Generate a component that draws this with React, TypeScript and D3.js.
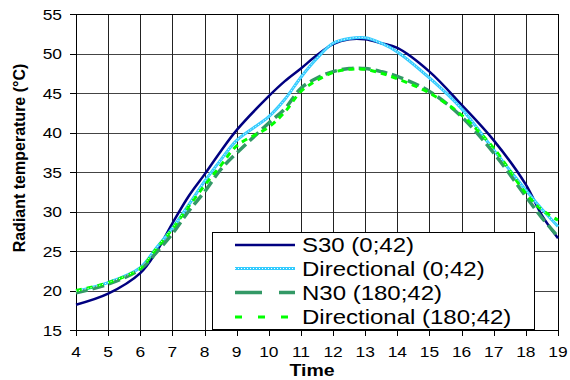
import React from "react";
import * as d3 from "d3";

const times = [4, 5, 6, 6.5, 7, 7.5, 8, 8.5, 9, 10, 10.5, 11, 11.5, 12, 12.5, 13, 13.5, 14, 15, 16, 17, 18, 18.5, 19];
const s30 = [18.2, 19.6, 22.2, 24.9, 28.5, 31.9, 34.7, 37.6, 40.3, 44.6, 46.5, 48.1, 49.8, 51.2, 51.8, 51.8, 51.3, 50.7, 47.7, 43.5, 39.0, 33.4, 29.5, 26.6];
const dir0 = [19.9, 21.0, 22.9, 25.4, 27.9, 30.8, 33.8, 36.5, 39.0, 42.0, 44.2, 47.0, 49.4, 51.3, 51.9, 52.0, 51.3, 50.2, 46.9, 43.0, 37.8, 32.7, 30.3, 28.1];
const n30 = [19.7, 20.8, 22.7, 24.8, 27.2, 30.0, 32.5, 35.3, 37.4, 41.2, 43.0, 45.6, 46.9, 47.7, 48.1, 48.1, 47.7, 47.1, 45.2, 42.0, 37.4, 31.9, 29.2, 26.8];
const dir180 = [20.0, 21.0, 22.8, 25.3, 27.8, 30.6, 33.3, 35.8, 38.3, 40.7, 42.6, 45.2, 46.6, 47.6, 48.0, 48.0, 47.5, 46.8, 45.0, 42.2, 38.0, 32.3, 30.2, 28.9];

const seriesNames = ["S30 (0;42)", "Directional (0;42)", "N30 (180;42)", "Directional (180;42)"];
const xTicks = d3.range(4, 20, 1);
const yTicks = d3.range(15, 56, 5);

const FONT = "'Liberation Sans', Arial, sans-serif";

const L = 76, R = 558, TOP = 14, B = 330;

function Txt(props: { x: number; y: number; anchor?: string; size: number; bold?: boolean; sx?: number; rot?: number; children: any }) {
  const { x, y, anchor = "start", size, bold, sx = 1.16, rot = 0, children } = props;
  return (
    <text
      transform={`translate(${x},${y}) rotate(${rot}) scale(${sx},1)`}
      textAnchor={anchor}
      fontFamily={FONT}
      fontSize={size}
      fontWeight={bold ? "bold" : "normal"}
      fill="#000"
    >
      {children}
    </text>
  );
}

export default function App() {
  const x = d3.scaleLinear().domain([4, 19]).range([L, R]);
  const y = d3.scaleLinear().domain([15, 55]).range([B, TOP]);
  const mk = (vals: number[]) =>
    d3
      .line<number>()
      .x((_, i) => x(times[i]))
      .y((v) => y(v))
      .curve(d3.curveCatmullRom.alpha(0.5))(vals) as string;

  const styles = [
    { data: s30, stroke: "#000080", width: 2.5, dash: undefined as string | undefined },
    { data: dir0, stroke: "#33ccff", width: 3, dash: undefined },
    { data: n30, stroke: "#339966", width: 3.5, dash: "12,5" },
    { data: dir180, stroke: "#00ff00", width: 3, dash: "6,5" },
  ];

  const legX = 212, legY = 232, legW = 322, legH = 97;
  const rowY = [245, 268.5, 292.5, 317];

  return (
    <svg width={570} height={380} style={{ position: "absolute", left: 0, top: 0, background: "#fff" }}>
      <rect x={0} y={0} width={570} height={380} fill="#fff" />
      {/* grid */}
      {yTicks.map((t) => (
        <line key={"h" + t} x1={L} x2={R} y1={Math.round(y(t)) + 0.5} y2={Math.round(y(t)) + 0.5} stroke="#444" strokeWidth={1} />
      ))}
      {xTicks.map((t) => (
        <line key={"v" + t} x1={Math.round(x(t)) + 0.5} x2={Math.round(x(t)) + 0.5} y1={TOP} y2={B} stroke="#222" strokeWidth={1} />
      ))}
      {/* ticks */}
      {yTicks.map((t) => (
        <line key={"yt" + t} x1={70} x2={L} y1={Math.round(y(t)) + 0.5} y2={Math.round(y(t)) + 0.5} stroke="#000" />
      ))}
      {xTicks.map((t) => (
        <line key={"xt" + t} x1={Math.round(x(t)) + 0.5} x2={Math.round(x(t)) + 0.5} y1={B} y2={B + 6} stroke="#000" />
      ))}
      <rect x={L + 0.5} y={TOP + 0.5} width={R - L} height={B - TOP} fill="none" stroke="#000" strokeWidth={1} />
      {/* series */}
      {styles.map((s, i) => (
        <path key={"s" + i} d={mk(s.data)} fill="none" stroke={s.stroke} strokeWidth={s.width} strokeDasharray={s.dash} strokeLinejoin="round" />
      ))}
      <path d={mk(dir0)} fill="none" stroke="#ffffff" strokeWidth={1} strokeDasharray="1,2" />
      {/* tick labels */}
      {yTicks.map((t) => (
        <Txt key={"yl" + t} x={62} y={y(t) + 5.5} anchor="end" size={15}>
          {t}
        </Txt>
      ))}
      {xTicks.map((t) => (
        <Txt key={"xl" + t} x={x(t)} y={357} anchor="middle" size={15}>
          {t}
        </Txt>
      ))}
      <Txt x={312} y={376} anchor="middle" size={16} bold sx={1.22}>
        Time
      </Txt>
      <Txt x={25} y={158} anchor="middle" size={16} bold rot={-90} sx={1.0}>
        Radiant temperature (°C)
      </Txt>
      {/* legend */}
      <rect x={legX + 0.5} y={legY + 0.5} width={legW} height={legH} fill="#fff" stroke="#000" strokeWidth={1} />
      {styles.map((s, i) => (
        <g key={"lg" + i}>
          <line x1={235} x2={295} y1={rowY[i]} y2={rowY[i]} stroke={s.stroke} strokeWidth={s.width}
            strokeDasharray={i === 2 ? "27,17" : i === 3 ? "7,16" : undefined} />
          {i === 1 && <line x1={235} x2={295} y1={rowY[i]} y2={rowY[i]} stroke="#fff" strokeWidth={1} strokeDasharray="1,2" />}
          <Txt x={302} y={rowY[i] + 7} size={20} sx={1.2}>
            {seriesNames[i]}
          </Txt>
        </g>
      ))}
    </svg>
  );
}
